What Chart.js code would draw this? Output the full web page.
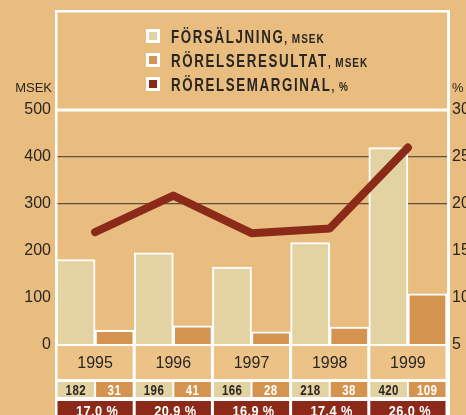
<!DOCTYPE html>
<html>
<head>
<meta charset="utf-8">
<script src="https://cdn.jsdelivr.net/npm/chart.js@4"></script>
<style>
html, body { margin: 0; padding: 0; background: #E9BD7F; }
#wrap { width: 466px; height: 415px; }
</style>
</head>
<body>
<div id="wrap"><canvas id="c" width="466" height="415"></canvas></div>
<script>
const years = ['1995', '1996', '1997', '1998', '1999'];
const sales = [182, 196, 166, 218, 420];
const result = [31, 41, 28, 38, 109];
const margin = [17.0, 20.9, 16.9, 17.4, 26.0];
const marginLabels = ['17.0 %', '20.9 %', '16.9 %', '17.4 %', '26.0 %'];
const legendItems = [
    ['FÖRSÄLJNING', ', MSEK', '#E4D3A2'],
    ['RÖRELSERESULTAT', ', MSEK', '#D49450'],
    ['RÖRELSEMARGINAL', ', %', '#8B2A19']
];

const BG = '#E9BD7F';
const CELL = '#ECC286';
const PALE = '#E4D3A2';
const ORANGE = '#D49450';
const RED = '#8B2A19';
const INK = '#2A2622';

// draw condensed text by squeezing horizontally
function squeezed(ctx, text, x, y, font, sx, align, color, spacing) {
    ctx.save();
    ctx.font = font;
    ctx.letterSpacing = (spacing || 0) + 'px';
    ctx.fillStyle = color;
    ctx.textBaseline = 'alphabetic';
    let w = ctx.measureText(text).width * sx;
    let x0 = x;
    if (align === 'center') x0 = x - w / 2;
    if (align === 'right') x0 = x - w;
    ctx.translate(x0, y);
    ctx.scale(sx, 1);
    ctx.textAlign = 'left';
    ctx.fillText(text, 0, 0);
    ctx.restore();
    return w;
}

const framePlugin = {
    id: 'frame',
    beforeDraw(chart) {
        const ctx = chart.ctx;
        ctx.save();
        ctx.fillStyle = BG;
        ctx.fillRect(0, 0, chart.width, chart.height);
        ctx.restore();
    },
    afterDraw(chart) {
        const ctx = chart.ctx;
        const area = chart.chartArea;
        const x = chart.scales.x;
        const n = years.length;
        const cw = (area.right - area.left) / n;
        ctx.save();

        // white frame
        ctx.fillStyle = '#fff';
        ctx.fillRect(55, 10, 395, 2.5);
        ctx.fillRect(55, area.top - 1.5, 395, 3);
        ctx.fillRect(55, 10, 2.5, chart.height);
        ctx.fillRect(area.right, 10, 3, chart.height);

        // axis units
        ctx.fillStyle = INK;
        ctx.font = '13px "Liberation Sans", Arial, sans-serif';
        ctx.textAlign = 'right';
        ctx.fillText('MSEK', 52, 92);
        ctx.textAlign = 'left';
        ctx.fillText('%', 452, 92);

        // legend
        legendItems.forEach((it, i) => {
            const y = 29 + i * 24;
            ctx.fillStyle = '#fff';
            ctx.fillRect(146, y, 14, 14);
            ctx.fillStyle = it[2];
            ctx.fillRect(149, y + 3, 8, 8);
            const w = squeezed(ctx, it[0], 171, y + 14, 'bold 18px "Liberation Sans", Arial, sans-serif', 0.74, 'left', INK, 2.2);
            squeezed(ctx, it[1], 171 + w, y + 14, 'bold 12.5px "Liberation Sans", Arial, sans-serif', 0.8, 'left', INK, 1.2);
        });

        // table below the plot
        const top = area.bottom - 1;
        ctx.fillStyle = '#fff';
        ctx.fillRect(55, top, 395, chart.height - top);
        for (let i = 0; i < n; i++) {
            const c = x.getPixelForValue(i);
            const l = c - cw / 2 + 1.5;
            const r = c + cw / 2 - 1.5;
            ctx.fillStyle = CELL;
            ctx.fillRect(l, top + 2, r - l, 33);
            ctx.fillStyle = INK;
            ctx.font = '16px "Liberation Sans", Arial, sans-serif';
            ctx.textAlign = 'center';
            ctx.fillText(years[i], c, top + 24);

            ctx.fillStyle = PALE;
            ctx.fillRect(l, top + 38, c - 1 - l, 15);
            ctx.fillStyle = ORANGE;
            ctx.fillRect(c + 1, top + 38, r - c - 1, 15);
            squeezed(ctx, String(sales[i]), (l + c - 1) / 2, top + 51, 'bold 14px "Liberation Sans", Arial, sans-serif', 0.82, 'center', INK, 0.5);
            squeezed(ctx, String(result[i]), (c + 1 + r) / 2, top + 51, 'bold 14px "Liberation Sans", Arial, sans-serif', 0.82, 'center', '#fff', 0.5);

            ctx.fillStyle = RED;
            ctx.fillRect(l, top + 57, r - l, chart.height - top - 57);
            squeezed(ctx, marginLabels[i], c + 2, top + 72, 'bold 15px "Liberation Sans", Arial, sans-serif', 0.85, 'center', '#fff', 0.5);
        }
        ctx.restore();
    }
};

const ctx = document.getElementById('c').getContext('2d');
const chart = new Chart(ctx, {
    type: 'bar',
    data: {
        labels: years,
        datasets: [{
            type: 'line',
            label: 'Rörelsemarginal',
            data: margin,
            yAxisID: 'y1',
            borderColor: RED,
            borderWidth: 8,
            borderCapStyle: 'round',
            borderJoinStyle: 'round',
            pointRadius: 0,
            tension: 0,
            order: 0
        }, {
            label: 'Försäljning',
            data: sales,
            backgroundColor: PALE,
            borderColor: '#fff',
            borderWidth: 2,
            order: 1
        }, {
            label: 'Rörelseresultat',
            data: result,
            backgroundColor: ORANGE,
            borderColor: '#fff',
            borderWidth: 2,
            order: 1
        }]
    },
    options: {
        responsive: false,
        animation: false,
        layout: { padding: { top: 110, bottom: 70, left: 0, right: 0 } },
        datasets: { bar: { categoryPercentage: 1, barPercentage: 1 } },
        plugins: { legend: { display: false }, tooltip: { enabled: false } },
        scales: {
            x: { display: false },
            y: {
                position: 'left',
                min: 0, max: 500,
                afterFit: (s) => { s.width = 56; },
                ticks: { stepSize: 100, padding: 5, color: INK, font: { family: '"Liberation Sans", Arial, sans-serif', size: 16 } },
                grid: {
                    drawTicks: false,
                    color: (c) => (c.tick && (c.tick.value === 300 || c.tick.value === 400)) ? '#5E4F40' : 'rgba(0,0,0,0)',
                    lineWidth: 1.2
                },
                border: { display: false }
            },
            y1: {
                position: 'right',
                min: 5, max: 30,
                afterFit: (s) => { s.width = 19; },
                ticks: { stepSize: 5, padding: 5, color: INK, font: { family: '"Liberation Sans", Arial, sans-serif', size: 16 } },
                grid: { display: false, drawTicks: false },
                border: { display: false }
            }
        }
    },
    plugins: [framePlugin]
});
</script>
</body>
</html>
